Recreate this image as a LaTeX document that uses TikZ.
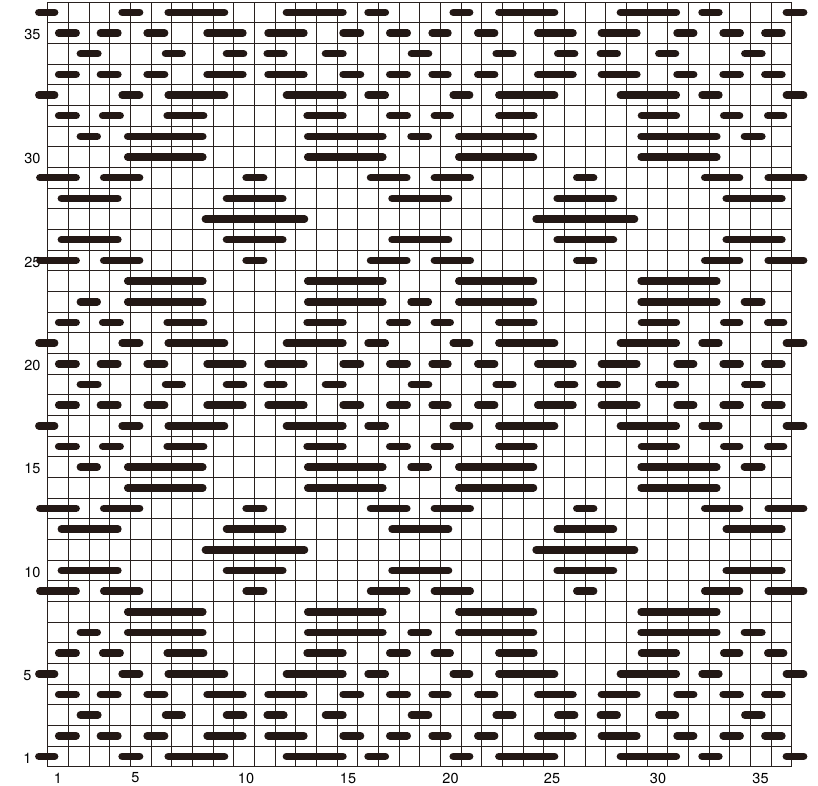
\documentclass[tikz,border=0pt]{standalone}
\usepackage{fontspec}
\setmainfont{TeX Gyre Heros}
\definecolor{barc}{RGB}{35,24,21}
\definecolor{gridc}{RGB}{40,32,30}
\def\cw{20.667}
\def\gx{47.67}
\def\gb{766.7}
\newcommand\drawfloats[2]{%
  \pgfmathsetmacro\yy{\gb-(#1-0.5)*\cw}%
  \foreach \a/\b in #2 {\draw[floatbar] ({\gx+\a*\cw+3.8},\yy) -- ({\gx+\b*\cw-3.8},\yy);}%
}
\def\rowA{-0.61/0.52, 3.42/4.63, 5.65/8.74, 11.37/14.47, 15.32/16.52, 19.44/20.60, 21.65/24.71, 27.53/30.60, 31.48/32.66, 35.56/36.76}
\def\rowB{0.35/1.56, 2.37/3.58, 4.63/5.84, 7.53/9.63, 10.48/12.58, 14.11/15.32, 16.37/17.58, 18.42/19.55, 20.63/21.81, 23.53/25.60, 26.61/28.69, 30.27/31.44, 32.50/33.69, 34.52/35.71}
\def\rowC{1.40/2.61, 5.52/6.69, 8.47/9.66, 10.44/11.61, 13.26/14.47, 17.42/18.61, 21.52/22.69, 24.50/25.68, 26.56/27.74, 29.39/30.56, 33.55/34.74}
\def\rowD{0.35/1.56, 2.48/3.69, 5.60/7.73, 12.37/14.47, 16.37/17.58, 18.53/19.66, 21.65/23.71, 28.55/30.60, 32.53/33.66, 34.66/35.79}
\def\rowE{1.40/2.58, 3.69/7.69, 12.40/16.40, 17.40/18.60, 19.71/23.69, 28.53/32.56, 33.53/34.74}
\def\rowF{3.69/7.69, 12.40/16.40, 19.71/23.69, 28.53/32.56}
\def\rowG{-0.56/1.56, 2.53/4.63, 9.42/10.63, 15.44/17.56, 18.53/20.63, 25.42/26.60, 31.61/33.66, 34.68/36.76}
\def\rowH{0.48/3.58, 8.47/11.56, 16.48/19.58, 24.47/27.56, 32.65/35.71}
\def\rowI{7.45/12.61, 23.45/28.58}
\begin{document}
\begin{tikzpicture}[x=1pt,y=-1pt,
  gridline/.style={draw=gridc,line width=0.9pt},
  floatbar/.style={draw=barc,line width=7.6pt,line cap=round},
  lbl/.style={font=\fontsize{14.5}{15}\selectfont,inner sep=0pt,text=black}]
\useasboundingbox (0,0) rectangle (818,785);
% grid
\foreach \i in {0,...,36} \draw[gridline] ({\gx+\i*\cw},{\gb-37*\cw}) -- ({\gx+\i*\cw},\gb);
\foreach \j in {0,...,37} \draw[gridline] (\gx,{\gb-\j*\cw}) -- ({\gx+36*\cw},{\gb-\j*\cw});
% row labels
\node[lbl,anchor=east] (r1)  at (31.7,{\gb-0.5*\cw+1.8}) {1};
\node[lbl,anchor=east] (r5)  at (31.7,{\gb-4.5*\cw+1.8}) {5};
\node[lbl,anchor=east] (r10) at (40.7,{\gb-9.5*\cw+1.8}) {10};
\node[lbl,anchor=east] (r15) at (40.7,{\gb-14.5*\cw+1.8}) {15};
\node[lbl,anchor=east] (r20) at (40.7,{\gb-19.5*\cw+1.8}) {20};
\node[lbl,anchor=east] (r25) at (40.7,{\gb-24.5*\cw+1.8}) {25};
\node[lbl,anchor=east] (r30) at (40.7,{\gb-29.5*\cw+1.8}) {30};
\node[lbl,anchor=east] (r35) at (40.7,{\gb-35.5*\cw+1.8}) {35};
% column labels
\node[lbl] (c1)  at (58,778) {1};
\node[lbl] (c5)  at (135.5,778) {5};
\node[lbl] (c10) at (246,778) {10};
\node[lbl] (c15) at (348,778) {15};
\node[lbl] (c20) at (450.5,778) {20};
\node[lbl] (c25) at (552,778) {25};
\node[lbl] (c30) at (658,778) {30};
\node[lbl] (c35) at (760.5,778) {35};
% floats
\foreach \r in {1,5,17,21,33,37} {\drawfloats{\r}{\rowA}}
\foreach \r in {2,4,18,20,34,36} {\drawfloats{\r}{\rowB}}
\foreach \r in {3,19,35} {\drawfloats{\r}{\rowC}}
\foreach \r in {6,16,22,32} {\drawfloats{\r}{\rowD}}
\foreach \r in {7,15,23,31} {\drawfloats{\r}{\rowE}}
\foreach \r in {8,14,24,30} {\drawfloats{\r}{\rowF}}
\foreach \r in {9,13,25,29} {\drawfloats{\r}{\rowG}}
\foreach \r in {10,12,26,28} {\drawfloats{\r}{\rowH}}
\foreach \r in {11,27} {\drawfloats{\r}{\rowI}}
\end{tikzpicture}
\end{document}
